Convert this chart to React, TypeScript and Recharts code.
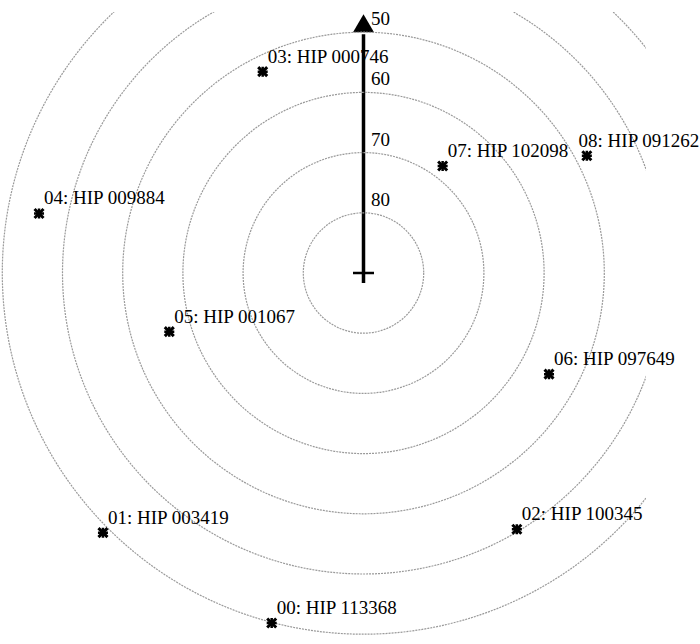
import React from "react";
import { ScatterChart, Scatter, XAxis, YAxis, ReferenceDot, ReferenceLine } from "recharts";

// star catalogue: id, name, elevation (deg), azimuth (deg, clockwise from top)
const starIds = ["00", "01", "02", "03", "04", "05", "06", "07", "08"];
const hipNames = [
  "HIP 113368",
  "HIP 003419",
  "HIP 100345",
  "HIP 000746",
  "HIP 009884",
  "HIP 001067",
  "HIP 097649",
  "HIP 102098",
  "HIP 091262",
];
const elevations = [29.9, 28.9, 40.4, 52.6, 35.2, 56.3, 54.9, 67.9, 48.1];
const azimuths = [194.7, 225.1, 149.1, 333.4, 280.4, 253.2, 118.6, 36.5, 62.3];

// elevation rings and their labels
const ringElevations = [80, 70, 60, 50, 40, 30];
const arrowTopElevation = 50;

const W = 700;
const H = 644;
const MARGIN = { top: 12, right: 54, bottom: 0, left: 0 };
const PX_PER_DEG = 6.02;
const CX = 363.5; // zenith position in page pixels
const CY = 273;
const FONT = "'Liberation Serif', 'Times New Roman', serif";
const FONT_SIZE = 19;

const xDomain = [-(CX - MARGIN.left) / PX_PER_DEG, (W - MARGIN.right - CX) / PX_PER_DEG];
const yDomain = [-(H - MARGIN.bottom - CY) / PX_PER_DEG, (CY - MARGIN.top) / PX_PER_DEG];

const toRad = (d: number) => (d * Math.PI) / 180;

const stars = starIds.map((id, i) => {
  const zd = 90 - elevations[i];
  return {
    label: `${id}: ${hipNames[i]}`,
    x: zd * Math.sin(toRad(azimuths[i])),
    y: zd * Math.cos(toRad(azimuths[i])),
  };
});

let ctx: CanvasRenderingContext2D | null = null;
function textWidth(s: string) {
  if (!ctx) ctx = document.createElement("canvas").getContext("2d");
  if (!ctx) return s.length * 8.8;
  ctx.font = `${FONT_SIZE}px ${FONT}`;
  return ctx.measureText(s).width;
}

function StarMark(props: any) {
  const { cx, cy, payload } = props;
  const s = 4.5;
  let tx = cx + 5;
  const w = textWidth(payload.label);
  if (tx + w > W) tx = W - w;
  return (
    <g>
      <path
        d={`M${cx - s},${cy - s}L${cx + s},${cy + s}M${cx - s},${cy + s}L${cx + s},${cy - s}`}
        stroke="#000"
        strokeWidth={3}
      />
      <path
        d={`M${cx - s - 0.5},${cy}L${cx + s + 0.5},${cy}M${cx},${cy - s - 0.5}L${cx},${cy + s + 0.5}`}
        stroke="#000"
        strokeWidth={2.5}
      />
      <text x={tx} y={cy - 9} fontFamily={FONT} fontSize={FONT_SIZE} fill="#000">
        {payload.label}
      </text>
    </g>
  );
}

function ZenithArrow(props: any) {
  const { x1, y1, x2, y2 } = props;
  if (x1 == null) return null;
  const bottom = Math.max(y1, y2);
  const top = Math.min(y1, y2);
  return (
    <g>
      <line x1={x1} y1={bottom + 10} x2={x1} y2={top + 2} stroke="#000" strokeWidth={3.5} />
      <line x1={x1 - 10.5} y1={bottom} x2={x1 + 10.5} y2={bottom} stroke="#000" strokeWidth={2.5} />
      <polygon points={`${x1 - 10.5},${top} ${x1 + 10.5},${top} ${x1},${top - 18}`} fill="#000" />
    </g>
  );
}

export default function App() {
  return (
    <div style={{ position: "absolute", left: 0, top: 0, width: W, height: H, background: "#fff" }}>
      <ScatterChart width={W} height={H} margin={MARGIN}>
        <XAxis type="number" dataKey="x" domain={xDomain} hide />
        <YAxis type="number" dataKey="y" domain={yDomain} hide />
        {ringElevations.map((el) => (
          <ReferenceDot
            key={`ring-${el}`}
            x={0}
            y={0}
            r={(90 - el) * PX_PER_DEG}
            ifOverflow="hidden"
            fill="none"
            stroke="#9a9a9a"
            strokeWidth={1.2}
            strokeDasharray="2 1"
          />
        ))}
        <ReferenceLine
          segment={[
            { x: 0, y: 0 },
            { x: 0, y: 90 - arrowTopElevation },
          ]}
          shape={ZenithArrow}
        />
        {ringElevations.map((el) => (
          <ReferenceDot
            key={`tick-${el}`}
            x={0}
            y={90 - el}
            r={0}
            shape={(p: any) => (
              <text x={p.cx + 7.5} y={p.cy - 7} fontFamily={FONT} fontSize={FONT_SIZE} fill="#000">
                {el}
              </text>
            )}
          />
        ))}
        <Scatter data={stars} shape={StarMark} isAnimationActive={false} />
      </ScatterChart>
    </div>
  );
}
